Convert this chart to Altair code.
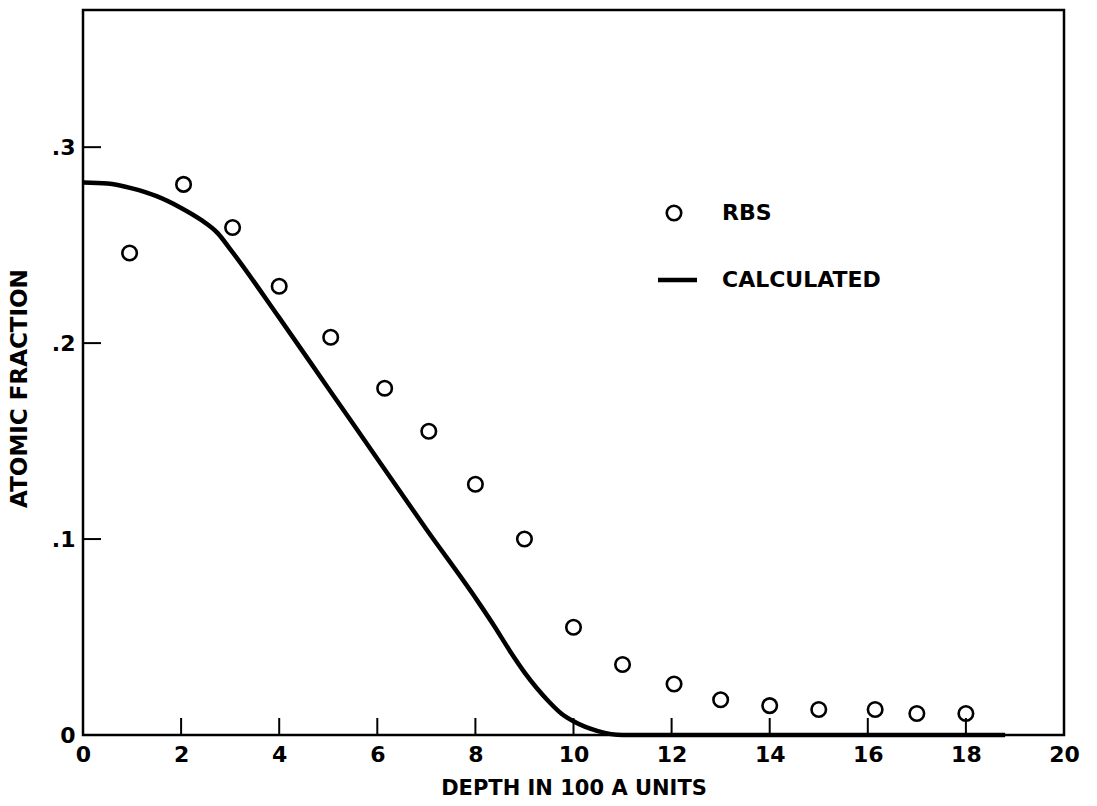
import altair as alt
import pandas as pd

# RBS measurements: depth (units of 100 A) and atomic fraction
rbs_depth = [0.95, 2.05, 3.05, 4.0, 5.05, 6.15, 7.05, 8.0, 9.0, 10.0,
             11.0, 12.05, 13.0, 14.0, 15.0, 16.15, 17.0, 18.0]
rbs_frac = [0.246, 0.281, 0.259, 0.229, 0.203, 0.177, 0.155, 0.128, 0.100, 0.055,
            0.036, 0.026, 0.018, 0.015, 0.013, 0.013, 0.011, 0.011]

# Calculated profile
calc_depth = [0.0, 0.5, 1.0, 1.5, 2.0, 2.4, 2.75, 3.0, 4.0, 5.0, 6.0, 7.0, 8.0,
              8.4, 8.7, 9.0, 9.25, 9.5, 9.75, 10.0, 10.5, 11.0, 12.0, 14.0, 16.0, 18.8]
calc_frac = [0.282, 0.2815, 0.279, 0.275, 0.269, 0.263, 0.256, 0.248, 0.213, 0.177,
             0.141, 0.105, 0.070, 0.055, 0.043, 0.032, 0.024, 0.017, 0.011, 0.007,
             0.002, 0.0, 0.0, 0.0, 0.0, 0.0]

x_ticks = [2, 4, 6, 8, 10, 12, 14, 16, 18]
y_ticks = [0.1, 0.2, 0.3]

W, H = 981, 725
FONT = "DejaVu Sans"

rbs = pd.DataFrame({"depth": rbs_depth, "frac": rbs_frac})
calc = pd.DataFrame({"depth": calc_depth, "frac": calc_frac})

x_scale = alt.Scale(domain=[0, 20], nice=False)
y_scale = alt.Scale(domain=[0, 0.37], nice=False)

x_axis = alt.Axis(
    values=list(range(0, 21, 2)), title="DEPTH IN 100 A UNITS", grid=False,
    ticks=False, domain=False, labelFont=FONT, labelFontWeight="bold",
    labelFontSize=22, labelColor="black", labelPadding=9, labelFlush=False,
    titleFont=FONT, titleFontWeight="bold", titleFontSize=21, titleColor="black",
    titlePadding=12,
)
y_axis = alt.Axis(
    values=[0, 0.1, 0.2, 0.3], title="ATOMIC FRACTION", grid=False,
    ticks=False, domain=False, labelFont=FONT, labelFontWeight="bold",
    labelFontSize=22, labelColor="black", labelPadding=8, labelFlush=False,
    labelExpr="datum.value == 0 ? '0' : '.' + round(datum.value * 10)",
    titleFont=FONT, titleFontWeight="bold", titleFontSize=23, titleColor="black",
    titlePadding=20, titleY=378,
)

line = alt.Chart(calc).mark_line(
    color="black", strokeWidth=4.5, interpolate="monotone"
).encode(
    x=alt.X("depth:Q", scale=x_scale, axis=x_axis),
    y=alt.Y("frac:Q", scale=y_scale, axis=y_axis),
)

points = alt.Chart(rbs).mark_point(
    shape="circle", size=210, filled=False, color="black", strokeWidth=2.6, opacity=1
).encode(
    x=alt.X("depth:Q", scale=x_scale),
    y=alt.Y("frac:Q", scale=y_scale),
)

# inward tick marks
xt = alt.Chart(pd.DataFrame({"t": x_ticks})).mark_rule(color="black", strokeWidth=2).encode(
    x=alt.X("t:Q", scale=x_scale), y=alt.value(H), y2=alt.value(H - 17)
)
yt = alt.Chart(pd.DataFrame({"t": y_ticks})).mark_rule(color="black", strokeWidth=2).encode(
    y=alt.Y("t:Q", scale=y_scale), x=alt.value(0), x2=alt.value(18)
)

# key
key_sym = alt.Chart(pd.DataFrame({"k": ["RBS"]})).mark_point(
    shape="circle", size=210, filled=False, color="black", strokeWidth=2.6, opacity=1
).encode(x=alt.value(591), y=alt.value(203))
key_line = alt.Chart(pd.DataFrame({"k": ["CALCULATED"]})).mark_rule(
    color="black", strokeWidth=4.5
).encode(x=alt.value(575), x2=alt.value(614), y=alt.value(270))
key_text = alt.Chart(pd.DataFrame({
    "label": ["RBS", "CALCULATED"], "py": [203, 270]
})).mark_text(
    align="left", baseline="middle", font=FONT, fontWeight="bold", fontSize=22, color="black"
).encode(x=alt.value(639), y=alt.Y("py:Q", scale=None), text="label:N")

chart = alt.layer(line, points, xt, yt, key_sym, key_line, key_text).properties(
    width=W, height=H,
    autosize=alt.AutoSizeParams(type="none"),
    padding={"left": 83, "top": 10, "right": 33, "bottom": 71},
    background="white",
).configure_view(stroke="black", strokeWidth=2.5)

chart.save("out.html", embed_options={"renderer": "svg", "actions": False})
